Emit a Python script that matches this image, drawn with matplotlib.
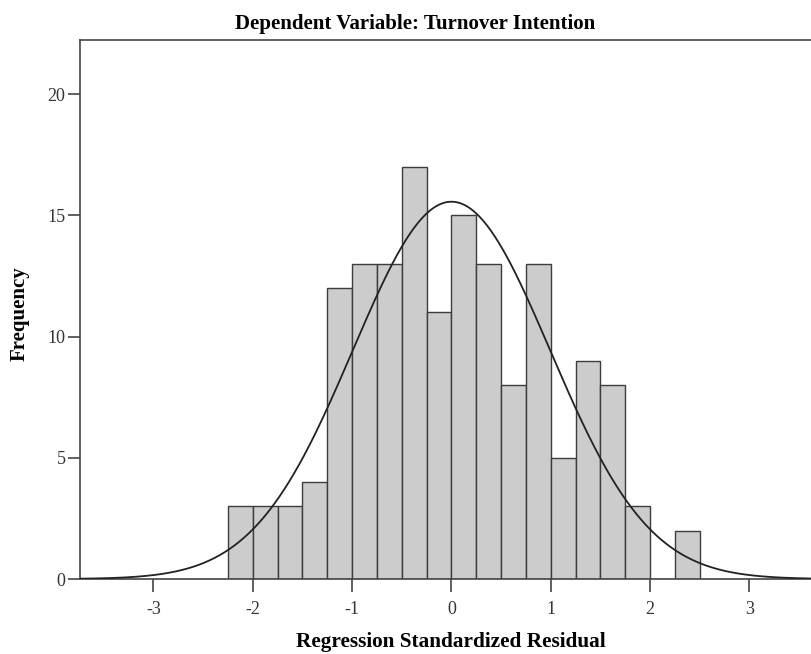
import numpy as np
import matplotlib
matplotlib.use("Agg")
import matplotlib.pyplot as plt

# Histogram data (bin left edges and counts)
bin_left = [-2.25, -2.0, -1.75, -1.5, -1.25, -1.0, -0.75, -0.5, -0.25, 0.0,
            0.25, 0.5, 0.75, 1.0, 1.25, 1.5, 1.75, 2.0, 2.25]
counts = [3, 3, 3, 4, 12, 13, 13, 17, 11, 15, 13, 8, 13, 5, 9, 8, 3, 0, 2]
bin_width = 0.25

# Normal curve parameters
res_mean = 0.0
res_std = 0.993
n_obs = 155

x_ticks = [-3, -2, -1, 0, 1, 2, 3]
y_ticks = [0, 5, 10, 15, 20]

title_text = 'Dependent Variable: Turnover Intention'
x_label = 'Regression Standardized Residual'
y_label = 'Frequency'

plt.rcParams['font.family'] = ['Liberation Serif', 'DejaVu Serif']

W, H = 811, 654
fig = plt.figure(figsize=(W / 100, H / 100), dpi=100)
ax = fig.add_axes([80 / W, 1 - 579 / H, 1 - 80 / W, (579 - 40) / H])

ax.bar(bin_left, counts, width=bin_width, align='edge', color='#cccccc',
       edgecolor='#3c3c3c', linewidth=1.0, zorder=2)

xs = np.linspace(-3.8, 3.7, 600)
ys = n_obs * bin_width / (res_std * np.sqrt(2 * np.pi)) * np.exp(-0.5 * ((xs - res_mean) / res_std) ** 2)
ax.plot(xs, ys, color='#222222', linewidth=1.3, zorder=3)

ax.set_xlim(-3.74, 3.62)
ax.set_ylim(0, 22.24)
ax.set_xticks(x_ticks)
ax.set_yticks(y_ticks)
ax.set_xticklabels([str(t) for t in x_ticks])
ax.set_yticklabels([str(t) for t in y_ticks])

for s in ['left', 'top', 'bottom']:
    ax.spines[s].set_color('#444444')
    ax.spines[s].set_linewidth(1.2)
ax.spines['right'].set_visible(False)

ax.tick_params(axis='both', direction='out', length=9, width=1.2, color='#444444',
               labelsize=13, labelcolor='#333333')
ax.tick_params(axis='x', pad=7)
ax.tick_params(axis='y', pad=1.5)

fig.text(415 / W, 1 - 29.5 / H, title_text, fontsize=15, fontweight='bold',
         ha='center', va='baseline')
fig.text(451 / W, 1 - 647 / H, x_label, fontsize=15.3, fontweight='bold',
         ha='center', va='baseline')
fig.text(20 / W, 1 - 314 / H, y_label, fontsize=15, fontweight='bold',
         ha='center', va='center', rotation=90)

fig.savefig('out.png', dpi=100)
